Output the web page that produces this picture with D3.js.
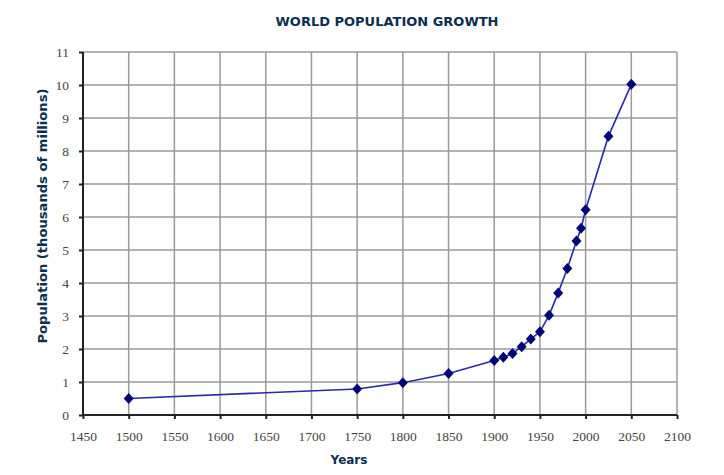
<!DOCTYPE html>
<html><head><meta charset="utf-8">
<script src="https://cdn.jsdelivr.net/npm/d3@7"></script>
<style>html,body{margin:0;padding:0;background:#fff;}
.tk text{font-family:"Liberation Serif","Times New Roman",serif !important;font-size:13.5px !important;fill:#444 !important;}
</style>
</head><body>
<svg id="c" width="724" height="475"></svg>
<script>
const years = [1500,1750,1800,1850,1900,1910,1920,1930,1940,1950,1960,1970,1980,1990,1995,2000,2025,2050];
const population = [0.5,0.79,0.98,1.26,1.65,1.75,1.86,2.07,2.30,2.52,3.02,3.70,4.44,5.27,5.66,6.22,8.45,10.02];
const xTicks = d3.range(1450, 2101, 50);
const yTicks = d3.range(0, 12, 1);
const titleText = "WORLD POPULATION GROWTH";
const xLabel = "Years";
const yLabel = "Population (thousands of millions)";

const svg = d3.select("#c");
const L = 83, R = 677, T = 52, B = 415;
const x = d3.scaleLinear().domain([1450, 2100]).range([L, R]);
const y = d3.scaleLinear().domain([0, 11]).range([B, T]);

// grid
svg.append("g").selectAll("line").data(xTicks.slice(1)).join("line")
  .attr("x1", d => x(d)).attr("x2", d => x(d)).attr("y1", T).attr("y2", B)
  .attr("stroke", "#9a9a9a").attr("stroke-width", 1.5);
svg.append("g").selectAll("line").data(yTicks.slice(1)).join("line")
  .attr("x1", L).attr("x2", R).attr("y1", d => y(d)).attr("y2", d => y(d))
  .attr("stroke", "#9a9a9a").attr("stroke-width", 1.5);

// axes
const xAxis = svg.append("g").attr("class", "tk").attr("transform", `translate(0,${B})`)
  .call(d3.axisBottom(x).tickValues(xTicks).tickFormat(d3.format("d")).tickSize(4).tickPadding(12));
const yAxis = svg.append("g").attr("class", "tk").attr("transform", `translate(${L},0)`)
  .call(d3.axisLeft(y).tickValues(yTicks).tickSize(4).tickPadding(10));
[xAxis, yAxis].forEach(a => {
  a.select(".domain").attr("stroke", "#222").attr("stroke-width", 2);
  a.selectAll(".tick line").attr("stroke", "#222").attr("stroke-width", 2);
});
xAxis.select(".domain").attr("d", `M${L},0H${R}`);
yAxis.select(".domain").attr("d", `M0,${B}V${T}`);

// line
svg.append("path").datum(years.map((yr, i) => [yr, population[i]]))
  .attr("fill", "none").attr("stroke", "#2a2aa8").attr("stroke-width", 1.6)
  .attr("d", d3.line().x(d => x(d[0])).y(d => y(d[1])));

// markers
svg.append("g").selectAll("path").data(years.map((yr, i) => [yr, population[i]])).join("path")
  .attr("transform", d => `translate(${x(d[0])},${y(d[1])})`)
  .attr("d", "M0,-5.5L5,0L0,5.5L-5,0Z").attr("fill", "#00067a");

// titles
svg.append("text").attr("x", 387).attr("y", 26).attr("text-anchor", "middle")
  .attr("font-family", "DejaVu Sans, Verdana, sans-serif").attr("font-weight", "bold")
  .attr("font-size", 12).attr("fill", "#0b2f4f").attr("textLength", 223).attr("lengthAdjust", "spacingAndGlyphs")
  .text(titleText);
svg.append("text").attr("x", 349).attr("y", 464).attr("text-anchor", "middle")
  .attr("font-family", "DejaVu Sans, Verdana, sans-serif").attr("font-weight", "bold")
  .attr("font-size", 12).attr("fill", "#0b2f4f").text(xLabel);
svg.append("text").attr("transform", "translate(47,216) rotate(-90)").attr("text-anchor", "middle")
  .attr("font-family", "DejaVu Sans, Verdana, sans-serif").attr("font-weight", "bold")
  .attr("font-size", 12).attr("fill", "#0b2f4f").attr("textLength", 255).attr("lengthAdjust", "spacingAndGlyphs")
  .text(yLabel);
</script>
</body></html>
